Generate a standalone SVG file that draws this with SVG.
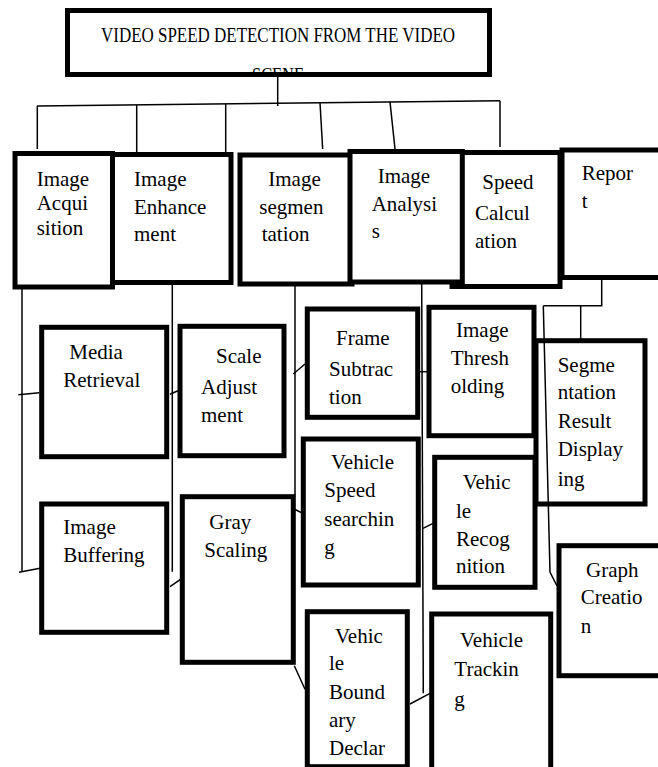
<svg xmlns="http://www.w3.org/2000/svg" width="658" height="767" viewBox="0 0 658 767">
<style>
.box{fill:#fff;stroke:#000;stroke-width:5}
.t{font-family:"Liberation Serif","Times New Roman",serif;font-size:21px;fill:#000}
.ln{fill:none;stroke:#000;stroke-width:1.5}
</style>
<defs>
<clipPath id="tc"><rect x="67" y="10" width="423" height="64"/></clipPath>
</defs>
<rect width="658" height="767" fill="#fff"/>

<g id="connectors">
<line class="ln" x1="277.7" y1="75" x2="277.7" y2="106"/>
<line class="ln" x1="37" y1="106" x2="500" y2="100.7"/>
<line class="ln" x1="37.3" y1="106" x2="37.3" y2="149"/>
<line class="ln" x1="136.7" y1="104.9" x2="136.7" y2="152"/>
<line class="ln" x1="225.7" y1="103.9" x2="225.7" y2="152"/>
<line class="ln" x1="320" y1="102.7" x2="322.7" y2="149"/>
<line class="ln" x1="390" y1="101.9" x2="395" y2="149"/>
<line class="ln" x1="500" y1="100.7" x2="500" y2="147"/>
<!-- acquisition branch -->
<line class="ln" x1="22" y1="287" x2="22" y2="572"/>
<line class="ln" x1="18.3" y1="394.7" x2="39.3" y2="392.7"/>
<line class="ln" x1="19" y1="572.3" x2="40" y2="568.3"/>
<!-- enhancement branch -->
<line class="ln" x1="172.3" y1="283" x2="172.3" y2="571.7"/>
<line class="ln" x1="170" y1="394.3" x2="178" y2="390.7"/>
<line class="ln" x1="170" y1="586.7" x2="180.5" y2="579.3"/>
<!-- segmentation branch -->
<line class="ln" x1="295" y1="284" x2="295" y2="495"/>
<line class="ln" x1="293.3" y1="374" x2="305" y2="364"/>
<line class="ln" x1="289.3" y1="506.7" x2="301.7" y2="512.7"/>
<line class="ln" x1="294.3" y1="665.7" x2="305" y2="689.3"/>
<!-- analysis branch -->
<line class="ln" x1="421.7" y1="283" x2="423.3" y2="693.3"/>
<line class="ln" x1="420" y1="371.7" x2="427" y2="371.7"/>
<line class="ln" x1="423" y1="528.3" x2="433" y2="523.3"/>
<line class="ln" x1="410" y1="704" x2="430" y2="693.3"/>
<!-- report branch -->
<polyline class="ln" points="601.7,279 601.7,305.7 543.3,305.7"/>
<line class="ln" x1="580.7" y1="305.7" x2="580.7" y2="339"/>
</g>

<g id="title">
<rect class="box" x="67.5" y="10.5" width="422" height="64"/>
<g clip-path="url(#tc)">
<text class="t" x="101" y="41.7" font-size="21.5" textLength="354" lengthAdjust="spacingAndGlyphs">VIDEO SPEED DETECTION FROM THE VIDEO</text>
<text class="t" x="252" y="81.5" font-size="21.5" textLength="52" lengthAdjust="spacingAndGlyphs">SCENE</text>
</g>
<rect x="67.5" y="10.5" width="422" height="64" fill="none" stroke="#000" stroke-width="5"/>
</g>

<g id="report">
<rect class="box" x="562" y="150" width="110" height="127.5"/>
<text class="t" x="581.7" y="180">Repor</text>
<text class="t" x="581.7" y="208.3">t</text>
</g>
<g id="speed-calculation">
<rect class="box" x="452" y="152.5" width="108" height="134"/>
<text class="t" x="482.3" y="189.3">Speed</text>
<text class="t" x="475" y="220">Calcul</text>
<text class="t" x="475" y="247.7">ation</text>
</g>
<g id="image-segmentation">
<rect class="box" x="240" y="155" width="112" height="129"/>
<text class="t" x="268.3" y="185.7">Image</text>
<text class="t" x="259.3" y="214">segmen</text>
<text class="t" x="261.7" y="241">tation</text>
</g>
<g id="image-analysis">
<rect class="box" x="350" y="151.5" width="112.3" height="130.5"/>
<text class="t" x="377.7" y="183.3">Image</text>
<text class="t" x="371.7" y="211">Analysi</text>
<text class="t" x="371.7" y="238.3">s</text>
</g>
<g id="image-enhancement">
<rect class="box" x="112.5" y="154.5" width="118.5" height="128"/>
<text class="t" x="134" y="185.7">Image</text>
<text class="t" x="134" y="214">Enhance</text>
<text class="t" x="134" y="241">ment</text>
</g>
<g id="image-acquisition">
<rect class="box" x="15" y="153.5" width="97.5" height="133.5"/>
<text class="t" x="36.7" y="185.7">Image</text>
<text class="t" x="36.7" y="209.7">Acqui</text>
<text class="t" x="36.7" y="235">sition</text>
</g>

<g id="media-retrieval">
<rect class="box" x="41.7" y="327.3" width="125" height="129.4"/>
<text class="t" x="69.3" y="359.3">Media</text>
<text class="t" x="63.3" y="387.3">Retrieval</text>
</g>
<g id="scale-adjustment">
<rect class="box" x="180" y="326.3" width="104" height="129.4"/>
<text class="t" x="216" y="363.3">Scale</text>
<text class="t" x="201" y="394.3">Adjust</text>
<text class="t" x="201" y="421.7">ment</text>
</g>
<g id="frame-subtraction">
<rect class="box" x="307.3" y="309" width="110.4" height="108.3"/>
<text class="t" x="336" y="345.3">Frame</text>
<text class="t" x="329" y="376">Subtrac</text>
<text class="t" x="329" y="404.3">tion</text>
</g>
<g id="image-thresholding">
<rect class="box" x="429" y="307.3" width="105" height="128.4"/>
<text class="t" x="456" y="336.7">Image</text>
<text class="t" x="450.7" y="365">Thresh</text>
<text class="t" x="450.7" y="393.3">olding</text>
</g>
<g id="segmentation-result-displaying">
<rect class="box" x="536" y="340.7" width="109" height="163.3"/>
<text class="t" x="557.7" y="371.7">Segme</text>
<text class="t" x="557.7" y="399.3">ntation</text>
<text class="t" x="557.7" y="427.7">Result</text>
<text class="t" x="557.7" y="456">Display</text>
<text class="t" x="557.7" y="486">ing</text>
</g>

<g id="image-buffering">
<rect class="box" x="41.7" y="504" width="125" height="128.3"/>
<text class="t" x="63.3" y="534">Image</text>
<text class="t" x="63.3" y="561.7">Buffering</text>
</g>
<g id="gray-scaling">
<rect class="box" x="182.3" y="496.7" width="111" height="165.6"/>
<text class="t" x="209.3" y="529">Gray</text>
<text class="t" x="204.3" y="556.7">Scaling</text>
</g>
<g id="vehicle-speed-searching">
<rect class="box" x="303.3" y="439" width="115" height="146"/>
<text class="t" x="331" y="469.3">Vehicle</text>
<text class="t" x="324.3" y="497.3">Speed</text>
<text class="t" x="324.3" y="526">searchin</text>
<text class="t" x="324.3" y="554.3">g</text>
</g>
<g id="vehicle-recognition">
<rect class="box" x="434.7" y="457.3" width="100.3" height="130"/>
<text class="t" x="462.7" y="489.3">Vehic</text>
<text class="t" x="456" y="517.7">le</text>
<text class="t" x="456" y="546">Recog</text>
<text class="t" x="456" y="573.3">nition</text>
</g>
<g id="graph-creation">
<rect class="box" x="559" y="545.7" width="110" height="130"/>
<text class="t" x="586" y="576.7">Graph</text>
<text class="t" x="580.7" y="604">Creatio</text>
<text class="t" x="580.7" y="632.5">n</text>
</g>

<g id="vehicle-boundary-declar">
<rect class="box" x="307.3" y="611.7" width="100" height="155"/>
<text class="t" x="335" y="642.7">Vehic</text>
<text class="t" x="329" y="670">le</text>
<text class="t" x="329" y="699">Bound</text>
<text class="t" x="329" y="727.3">ary</text>
<text class="t" x="329" y="755">Declar</text>
</g>
<g id="vehicle-tracking">
<rect class="box" x="431.7" y="614" width="119" height="160"/>
<text class="t" x="460" y="646.7">Vehicle</text>
<text class="t" x="454.3" y="676">Trackin</text>
<text class="t" x="454.3" y="706">g</text>
</g>

<g id="connectors-over">
<polyline class="ln" points="543.3,305.7 550,572 557,586"/>
</g>
</svg>
